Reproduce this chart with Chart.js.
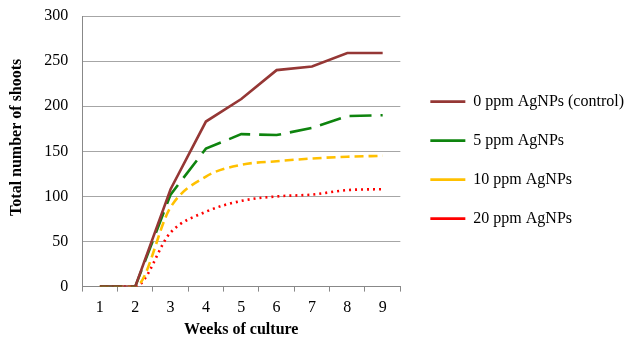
<!DOCTYPE html>
<html><head><meta charset="utf-8">
<script src="https://cdn.jsdelivr.net/npm/chart.js@4"></script>
<style>html,body{margin:0;padding:0;background:#fff}#wrap{width:627px;height:341px}</style>
</head><body><div id="wrap"><canvas id="c" width="627" height="341"></canvas></div>
<script>
const weeks = ["1","2","3","4","5","6","7","8","9"];
const control0 = [0,0,108,183,208,240,244,259,259];
const ppm5 = [0,0,102,153,169,168,176,189,190];
const ppm10 = [0,0,88,122,135,139,142,144,145];
const ppm20 = [0,0,60,83,95,100,102,107,108];
const seriesNames = ["0 ppm AgNPs (control)","5 ppm AgNPs","10 ppm AgNPs","20 ppm AgNPs"];
const yTicks = [0,50,100,150,200,250,300];

const serif = "'Liberation Serif','Times New Roman',serif";
Chart.defaults.font.family = serif;
Chart.defaults.color = '#000';

const legendShift = {
  id: 'legendShift',
  afterLayout(chart) {
    const l = chart.legend;
    if (l) { l.left += 7; l.right += 7; }
  }
};

new Chart(document.getElementById('c'), {
  type: 'line',
  data: {
    labels: weeks,
    datasets: [
      {label: seriesNames[0], data: control0, borderColor:'#953735', backgroundColor:'#953735', borderWidth:2.6, pointRadius:0, tension:0, pointStyle:'line'},
      {label: seriesNames[1], data: ppm5, borderColor:'#0E840E', backgroundColor:'#0E840E', borderWidth:2.6, borderDash:[22,9], pointRadius:0, tension:0, pointStyle:'line'},
      {label: seriesNames[2], data: ppm10, borderColor:'#FFC000', backgroundColor:'#FFC000', borderWidth:2.6, borderDash:[9,5], pointRadius:0, cubicInterpolationMode:'monotone', pointStyle:'line'},
      {label: seriesNames[3], data: ppm20, borderColor:'#FF0000', backgroundColor:'#FF0000', borderWidth:2.6, borderDash:[2,4], pointRadius:0, cubicInterpolationMode:'monotone', pointStyle:'line'}
    ]
  },
  plugins: [legendShift],
  options: {
    responsive:false, animation:false,
    layout:{padding:{top:0,left:3,right:0,bottom:-2}},
    plugins:{
      tooltip:{enabled:false},
      legend:{position:'right', align:'start', maxWidth:260,
        title:{display:true, text:' ', padding:{top:32,bottom:20}, font:{size:15.5}},
        labels:{usePointStyle:true, pointStyleWidth:35, font:{size:16, family:serif}, padding:23, color:'#000'}}
    },
    scales:{
      x:{offset:true,
        grid:{offset:true, drawOnChartArea:false, color:'#888', tickLength:5},
        border:{color:'#888', width:1},
        ticks:{font:{size:16,family:serif}, color:'#000', padding:7},
        title:{display:true, text:'Weeks of culture', font:{size:16, weight:'bold', family:serif}, color:'#000', padding:{top:-5}}
      },
      y:{min:0, max:300,
        afterBuildTicks:(ax)=>{ax.ticks = yTicks.map(v=>({value:v}));},
        afterFit:(ax)=>{ax.paddingTop = 16;},
        grid:{color:'#A6A6A6', drawTicks:false},
        border:{color:'#888', width:1},
        ticks:{font:{size:16,family:serif}, color:'#000', padding:14},
        title:{display:true, text:'       Total number of shoots', font:{size:16, weight:'bold', family:serif}, color:'#000', padding:{bottom:4}}
      }
    }
  }
});
</script></body></html>
